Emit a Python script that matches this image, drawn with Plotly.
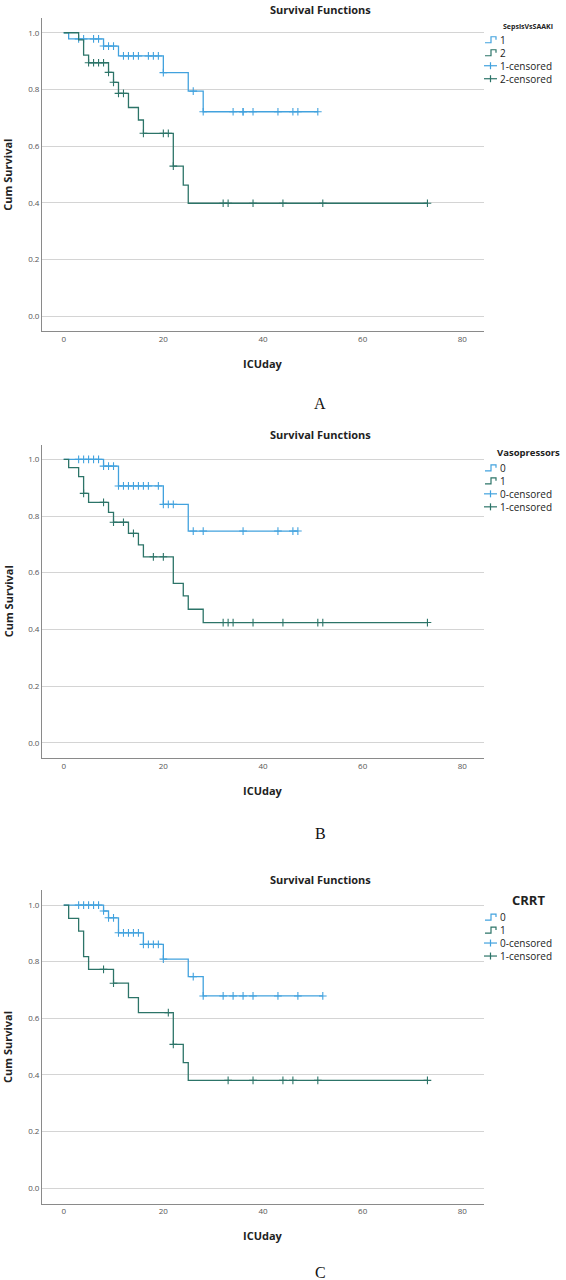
import plotly.graph_objects as go

# ---------------- data ----------------
# Panel A: SepsisVsSAAKI
A_g1_event_days = [1, 8, 11, 20, 25, 28]
A_g1_surv = [0.978, 0.953, 0.918, 0.859, 0.794, 0.721]
A_g1_censor_days = [3, 4, 6, 7, 8, 9, 10, 12, 13, 14, 15, 17, 18, 19, 20, 26, 28, 34, 36, 36, 38, 43, 46, 47, 51]
A_g2_event_days = [3, 4, 5, 9, 10, 11, 13, 15, 16, 22, 24, 25]
A_g2_surv = [0.975, 0.921, 0.894, 0.860, 0.825, 0.786, 0.736, 0.692, 0.645, 0.529, 0.462, 0.398]
A_g2_censor_days = [5, 6, 7, 8, 9, 10, 11, 12, 16, 20, 21, 22, 32, 33, 38, 44, 52, 73]

# Panel B: Vasopressors
B_g0_event_days = [8, 11, 20, 25]
B_g0_surv = [0.976, 0.906, 0.841, 0.747]
B_g0_censor_days = [3, 4, 5, 6, 7, 8, 9, 10, 11, 12, 13, 14, 15, 16, 17, 19, 20, 21, 22, 26, 28, 36, 43, 46, 47]
B_g1_event_days = [1, 3, 4, 5, 9, 10, 13, 15, 16, 22, 24, 25, 28]
B_g1_surv = [0.971, 0.939, 0.880, 0.848, 0.813, 0.778, 0.739, 0.698, 0.656, 0.562, 0.518, 0.471, 0.424]
B_g1_censor_days = [4, 8, 10, 12, 14, 18, 20, 32, 33, 34, 38, 44, 51, 52, 73]

# Panel C: CRRT
C_g0_event_days = [8, 9, 11, 16, 20, 25, 28]
C_g0_surv = [0.979, 0.955, 0.902, 0.861, 0.809, 0.747, 0.679]
C_g0_censor_days = [3, 4, 5, 6, 7, 8, 9, 10, 11, 12, 13, 14, 15, 16, 17, 18, 19, 20, 26, 28, 32, 34, 36, 38, 43, 47, 52]
C_g1_event_days = [1, 3, 4, 5, 10, 13, 15, 22, 24, 25]
C_g1_surv = [0.953, 0.908, 0.818, 0.773, 0.724, 0.673, 0.620, 0.508, 0.444, 0.381]
C_g1_censor_days = [8, 10, 21, 22, 33, 38, 44, 46, 51, 73]

legend_titles = ["SepsisVsSAAKI", "Vasopressors", "CRRT"]
group_labels = [["1", "2"], ["0", "1"], ["0", "1"]]
panel_letters = ["A", "B", "C"]
x_ticks = [0, 20, 40, 60, 80]
y_ticks = [0.0, 0.2, 0.4, 0.6, 0.8, 1.0]

panels_data = [
    [(A_g1_event_days, A_g1_surv, A_g1_censor_days), (A_g2_event_days, A_g2_surv, A_g2_censor_days)],
    [(B_g0_event_days, B_g0_surv, B_g0_censor_days), (B_g1_event_days, B_g1_surv, B_g1_censor_days)],
    [(C_g0_event_days, C_g0_surv, C_g0_censor_days), (C_g1_event_days, C_g1_surv, C_g1_censor_days)],
]

# ---------------- style / layout ----------------
W, H = 566, 1280
COLORS = ["#42a2de", "#2c7468"]
GRID = "#d4d4d4"
AXIS = "#8a8a8a"
TICKC = "#555555"
FONT = "Open Sans"

# pixel geometry of each panel: plot top, plot bottom
panel_px = [(18, 331.3), (444.6, 758.0), (890.3, 1203.6)]
plot_left, plot_right = 42, 484
XR = [-4.35, 84.35]
YR = [-0.054, 1.052]
legend_title_sizes = [7, 9.5, 13]
legend_title_dy = [-6.5, -6.5, -5]
legend_center_dy = [26.5, 28, 31.5]
LEG_FS = 10
LEG_LINE = 1.3 * LEG_FS
title_dy = [-23, -24.5, -26]
xtitle_gap = [32, 32, 32]
letter_gap = [72, 75, 69]


def px(x):
    return x / W


def py(y):
    return 1 - y / H


def surv_at(t, ev, sv):
    s = 1.0
    for e, v in zip(ev, sv):
        if e <= t:
            s = v
    return s


fig = go.Figure()
annotations = []
shapes = []

for i, groups in enumerate(panels_data):
    top, bot = panel_px[i]
    xa = "x" if i == 0 else f"x{i+1}"
    ya = "y" if i == 0 else f"y{i+1}"
    for g, (ev, sv, cd) in enumerate(groups):
        tmax = max(ev + cd)
        fig.add_trace(go.Scatter(
            x=[0] + ev + [tmax], y=[1.0] + sv + [sv[-1]],
            mode="lines", line=dict(color=COLORS[g], width=1.3, shape="hv"),
            xaxis=xa, yaxis=ya, showlegend=False, hoverinfo="skip"))
        fig.add_trace(go.Scatter(
            x=cd, y=[surv_at(t, ev, sv) for t in cd],
            mode="markers",
            marker=dict(symbol="cross-thin", size=5.5, color=COLORS[g],
                        line=dict(color=COLORS[g], width=1.1)),
            xaxis=xa, yaxis=ya, showlegend=False, hoverinfo="skip"))

    dom_y = [py(bot), py(top)]
    axis_common = dict(showline=True, linecolor=AXIS, linewidth=1, ticks="",
                       tickfont=dict(family=FONT, size=8, color=TICKC), zeroline=False,
                       mirror=False)
    fig.layout[("xaxis" if i == 0 else f"xaxis{i+1}")] = dict(
        domain=[px(plot_left), px(plot_right)], range=XR, anchor=ya,
        tickvals=x_ticks, showgrid=False, **axis_common)
    fig.layout[("yaxis" if i == 0 else f"yaxis{i+1}")] = dict(
        domain=dom_y, range=YR, anchor=xa, tickvals=y_ticks, tickformat=".1f",
        showgrid=True, gridcolor=GRID, gridwidth=1.2, **axis_common)

    # y position of 1.0 line in pixels
    y1 = top + (YR[1] - 1.0) / (YR[1] - YR[0]) * (bot - top)

    # title
    annotations.append(dict(text="<b>Survival Functions</b>", x=px(320), y=py(y1 + title_dy[i]),
                            xref="paper", yref="paper", showarrow=False, xanchor="center",
                            yanchor="middle", font=dict(family=FONT, size=11, color="#222222")))
    # axis titles
    annotations.append(dict(text="<b>Cum Survival</b>", x=px(8), y=py((top + bot) / 2),
                            xref="paper", yref="paper", showarrow=False, textangle=-90,
                            xanchor="center", yanchor="middle",
                            font=dict(family=FONT, size=11, color="#222222")))
    annotations.append(dict(text="<b>ICUday</b>", x=px(263), y=py(bot + xtitle_gap[i]),
                            xref="paper", yref="paper", showarrow=False,
                            xanchor="center", yanchor="middle",
                            font=dict(family=FONT, size=11, color="#222222")))
    # panel letter
    annotations.append(dict(text=panel_letters[i], x=px(320), y=py(bot + letter_gap[i]),
                            xref="paper", yref="paper", showarrow=False,
                            xanchor="center", yanchor="middle",
                            font=dict(family="Liberation Serif", size=16, color="#111111")))

    # legend (manual)
    annotations.append(dict(text=f"<b>{legend_titles[i]}</b>", x=px(528), y=py(y1 + legend_title_dy[i]),
                            xref="paper", yref="paper", showarrow=False,
                            xanchor="center", yanchor="middle",
                            font=dict(family=FONT, size=legend_title_sizes[i], color="#222222")))
    labels = [group_labels[i][0], group_labels[i][1],
              group_labels[i][0] + "-censored", group_labels[i][1] + "-censored"]
    yc = y1 + legend_center_dy[i]
    annotations.append(dict(text="<br>".join(labels), x=px(498), y=py(yc), xref="paper", yref="paper",
                            showarrow=False, xanchor="left", yanchor="middle", align="left",
                            font=dict(family=FONT, size=LEG_FS, color="#222222")))
    for k in range(4):
        yy = yc + (k - 1.5) * LEG_LINE
        col = COLORS[k % 2]
        if k < 2:
            path = (f"M {px(485)},{py(yy+3)} L {px(491)},{py(yy+3)} L {px(491)},{py(yy-3)} "
                    f"L {px(496)},{py(yy-3)} L {px(496)},{py(yy)}")
            shapes.append(dict(type="path", path=path, xref="paper", yref="paper",
                               line=dict(color=col, width=1.2)))
        else:
            shapes.append(dict(type="line", x0=px(484), x1=px(497), y0=py(yy), y1=py(yy),
                               xref="paper", yref="paper", line=dict(color=col, width=1.2)))
            shapes.append(dict(type="line", x0=px(490.5), x1=px(490.5), y0=py(yy - 3.5), y1=py(yy + 3.5),
                               xref="paper", yref="paper", line=dict(color=col, width=1.2)))

fig.update_layout(width=W, height=H, margin=dict(l=0, r=0, t=0, b=0),
                  paper_bgcolor="white", plot_bgcolor="white",
                  annotations=annotations, shapes=shapes, showlegend=False)

fig.write_html("out.html")
